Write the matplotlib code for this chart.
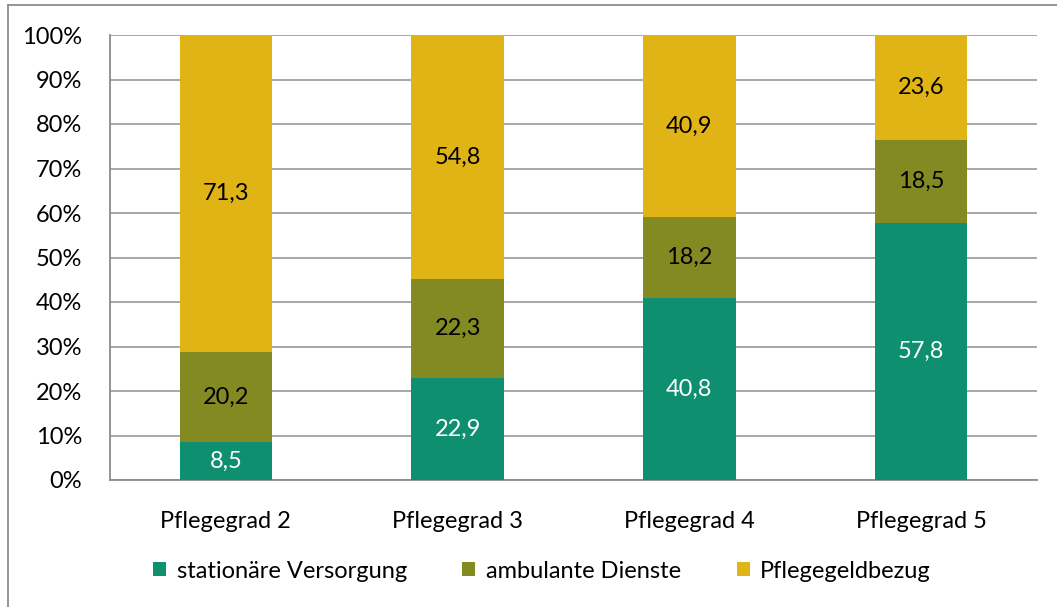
import matplotlib
matplotlib.use("Agg")
import matplotlib.pyplot as plt
from matplotlib.lines import Line2D
import numpy as np

categories = ["Pflegegrad 2", "Pflegegrad 3", "Pflegegrad 4", "Pflegegrad 5"]
series_names = ["stationäre Versorgung", "ambulante Dienste", "Pflegegeldbezug"]
stationaer = [8.5, 22.9, 40.8, 57.8]
ambulant = [20.2, 22.3, 18.2, 18.5]
pflegegeld = [71.3, 54.8, 40.9, 23.6]
colors = ["#0E8F6F", "#838A22", "#E1B415"]
label_colors = ["white", "black", "black"]
yticks = [0, 10, 20, 30, 40, 50, 60, 70, 80, 90, 100]

plt.rcParams['font.family'] = ['Lato', 'DejaVu Sans']
FS = 17

W, H = 1057, 607
fig = plt.figure(figsize=(W / 100, H / 100), dpi=100)
ax = fig.add_axes([110 / W, 1 - 480 / H, 927 / W, 445 / H])

data = np.array([stationaer, ambulant, pflegegeld])
totals = data.sum(axis=0)
pct = data / totals * 100
x = np.arange(len(categories))
bottom = np.zeros(len(categories))
handles = []
for i, name in enumerate(series_names):
    bars = ax.bar(x, pct[i], 0.4, bottom=bottom, color=colors[i], label=name, zorder=3)
    handles.append(bars)
    for j in range(len(categories)):
        ax.text(x[j], bottom[j] + pct[i][j] / 2, f"{data[i][j]:.1f}".replace(".", ","),
                ha="center", va="center", fontsize=FS, color=label_colors[i], zorder=4)
    bottom += pct[i]

ax.set_xlim(-0.5, len(categories) - 0.5)
ax.set_ylim(0, 100)
ax.set_yticks(yticks)
ax.set_yticklabels([f"{t}%" for t in yticks], fontsize=FS)
ax.set_xticks(x)
ax.set_xticklabels(categories, fontsize=FS)
ax.tick_params(axis="both", length=0)
ax.tick_params(axis="y", pad=20)
ax.tick_params(axis="x", pad=22)
ax.grid(axis="y", color="#A0A0A0", linewidth=1.3, zorder=0)
for s in ["top", "right"]:
    ax.spines[s].set_visible(False)
for s in ["left", "bottom"]:
    ax.spines[s].set_color("#8C8C8C")
    ax.spines[s].set_linewidth(1.3)

leg = fig.legend(handles=handles, labels=series_names, loc="center",
                 bbox_to_anchor=(542 / W, 1 - 571 / H), ncol=3, frameon=False,
                 fontsize=FS, handlelength=0.55, handleheight=0.55,
                 handletextpad=0.45, columnspacing=2.35)

# outer chart frame
fig.add_artist(Line2D([8 / W, 8 / W], [0, 1 - 5 / H], color="#8C8C8C", linewidth=1.3,
                      transform=fig.transFigure))
fig.add_artist(Line2D([8 / W, 1], [1 - 5 / H, 1 - 5 / H], color="#8C8C8C", linewidth=1.3,
                      transform=fig.transFigure))

fig.savefig("out.png", dpi=100)
